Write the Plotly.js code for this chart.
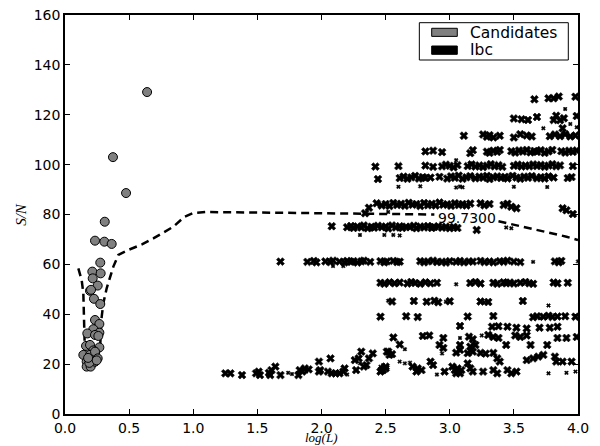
<!DOCTYPE html>
<html>
<head>
<meta charset="utf-8">
<script src="https://cdn.plot.ly/plotly-3.0.1.min.js"></script>
<style>html,body{margin:0;padding:0;background:#fff;}#chart{width:600px;height:446px;}</style>
</head>
<body>
<div id="chart"></div>
<script>
// ---- Candidates (grey circles) ----
const candX = [0.640,0.374,0.476,0.310,0.234,0.307,0.364,0.275,0.213,0.278,0.216,0.255,0.195,0.203,0.226,0.275,0.234,0.268,0.221,0.268,0.174,0.234,0.260,0.164,0.195,0.268,0.221,0.143,0.195,0.234,0.255,0.169,0.208,0.169,0.200,0.234,0.190,0.247,0.180];
const candY = [129.1,103.0,88.6,77.1,69.5,69.1,68.2,60.7,57.1,56.4,54.4,51.5,49.4,49.8,46.2,44.1,37.7,36.1,34.0,32.6,32.3,31.7,31.3,27.3,27.7,26.7,25.5,23.7,23.7,25.0,22.3,21.0,20.0,19.0,19.0,21.0,20.5,21.5,22.5];

// ---- Ibc, large markers ----
const ibcBigX = [
 3.66,3.77,3.81,3.85,3.98,
 3.50,3.56,3.61,3.68,3.81,3.83,3.86,3.89,3.99,3.88,
 3.11,3.26,3.29,3.31,3.34,3.39,3.50,3.55,3.60,3.64,3.78,3.82,3.86,3.90,3.94,3.98,
 2.81,2.87,2.94,3.16,3.18,3.29,3.31,3.34,3.37,3.39,3.48,3.51,3.54,3.57,3.60,3.63,3.66,3.68,3.71,3.74,3.77,3.80,3.87,3.90,3.93,3.96,3.99,
 2.42,2.60,2.81,2.87,2.94,2.97,3.00,3.03,3.06,3.14,3.17,3.20,3.23,3.26,3.29,3.32,3.35,3.38,3.41,3.50,3.53,3.56,3.59,3.62,3.65,3.68,3.71,3.74,3.77,3.80,3.83,3.86,3.96,
 2.44,2.61,2.64,2.67,2.70,2.73,2.76,2.79,2.81,2.85,2.92,2.98,3.01,3.04,3.07,3.10,3.13,3.16,3.20,3.23,3.26,3.29,3.31,3.34,3.37,3.40,3.43,3.45,3.49,3.52,3.55,3.58,3.61,3.64,3.68,3.71,3.74,3.77,3.81,3.92,3.95,
 2.34,2.37,2.43,2.47,2.50,2.53,2.56,2.59,2.62,2.65,2.68,2.71,2.74,2.77,2.80,2.83,2.86,2.89,2.92,2.95,2.98,3.01,3.04,3.07,3.10,3.13,3.16,3.24,3.27,3.31,3.42,3.45,3.48,3.52,3.88,3.91,3.96,
 2.08,2.20,2.23,2.25,2.28,2.31,2.33,2.36,2.39,2.41,2.44,2.47,2.50,2.52,2.55,2.58,2.61,2.63,2.66,2.69,2.72,2.74,2.77,2.80,2.83,2.86,2.88,2.91,2.94,2.97,3.00,3.03,3.06,3.21,
 1.68,1.89,1.94,1.96,2.03,2.07,2.09,2.14,2.18,2.20,2.23,2.25,2.28,2.31,2.33,2.38,2.46,2.49,2.51,2.56,2.59,2.61,2.77,2.80,2.83,2.87,2.90,2.94,2.97,3.00,3.05,3.08,3.11,3.15,3.18,3.24,3.27,3.31,3.34,3.39,3.42,3.45,3.50,3.55,3.82,3.85,3.87,
 2.46,2.49,2.53,2.57,2.61,2.67,2.70,2.73,2.77,2.81,2.85,2.90,3.16,3.20,3.24,3.34,3.37,3.42,3.44,3.47,3.50,3.55,3.59,3.62,3.65,3.81,3.84,3.92,
 2.55,2.72,2.82,2.88,2.91,3.00,3.24,3.30,3.57,
 2.46,2.66,2.75,3.14,3.34,3.65,3.68,3.73,3.77,3.80,3.84,3.90,3.98,
 3.08,3.33,3.38,3.45,3.52,3.60,3.70,3.78,3.84,
 2.56,2.79,2.84,2.95,3.15,3.18,3.30,3.34,3.38,3.51,3.55,3.60,3.84,3.91,3.99,
 2.61,2.92,2.95,3.08,3.16,3.20,3.44,3.63,3.76,
 2.51,2.55,3.05,3.08,3.14,3.18,3.24,3.28,3.34,3.37,3.39,3.60,3.65,3.69,3.73,3.82,3.83,3.88,3.95,
 2.47,2.50,2.71,2.75,2.78,2.74,2.85,2.87,2.96,3.02,3.04,3.06,3.08,3.09,3.05,3.14,3.16,3.18,3.26,3.34,3.37,3.45,3.48,3.52,
 1.25,1.29,1.38,1.49,1.52,1.51,1.59,1.61,1.60,1.64,1.68,1.82,1.83,1.85,1.87,1.90,1.98,1.99,1.98,2.05,2.08,2.07,2.11,2.14,2.17,2.18,2.27,2.26,2.29,2.31,2.33,2.37,2.35,2.40,2.46,2.48,2.50,2.52,2.53
];
const ibcBigY = [
 126.2,126.6,126.6,127.3,127.2,
 118.5,118.2,117.9,119.1,117.9,119.6,117.8,118.6,119.5,114.6,
 111.6,112.1,111.2,111.8,110.9,111.6,110.9,112.2,111.7,111.3,111.4,112.1,111.4,112.2,111.3,111.7,
 105.3,105.6,105.0,104.6,105.8,105.2,104.7,105.6,105.1,105.9,105.4,104.8,105.7,105.2,105.9,104.9,105.5,105.1,105.8,104.7,105.3,105.9,105.4,104.8,105.6,105.1,105.7,
 99.2,99.4,99.6,99.1,99.3,100.0,99.5,98.9,99.8,99.4,100.1,99.2,99.7,99.0,99.6,100.2,99.3,99.8,99.1,99.5,100.0,99.2,99.7,99.3,100.1,99.4,99.9,99.1,99.6,100.2,99.3,99.7,99.4,
 94.2,94.6,95.2,94.3,94.9,95.5,94.4,95.0,94.6,94.8,95.1,94.4,95.3,94.7,95.6,94.3,94.9,95.4,94.5,95.2,94.7,95.5,94.2,94.9,95.3,94.6,95.1,94.4,95.5,94.8,94.3,95.2,94.7,95.4,94.5,95.0,94.4,95.3,94.8,94.6,95.0,
 80.5,82.7,84.5,83.6,84.2,83.4,84.6,83.8,84.3,83.5,84.7,83.9,84.2,83.4,84.6,83.7,84.3,83.6,84.8,83.9,84.1,83.5,84.5,83.8,84.2,83.6,84.4,84.5,83.7,84.2,83.8,84.3,83.1,82.5,82.5,81.7,80.2,
 75.3,74.9,75.4,74.6,75.2,74.8,75.6,74.5,75.1,74.7,75.5,74.9,75.2,74.4,75.6,74.8,75.3,74.6,75.1,74.9,75.5,74.5,75.2,74.8,75.4,74.6,75.0,75.3,74.7,75.1,74.5,75.0,74.6,73.8,
 61.1,61.0,61.4,60.8,61.2,60.9,61.5,61.1,60.8,61.4,61.0,61.3,60.7,61.2,61.5,61.0,61.3,60.8,61.2,61.4,60.9,61.1,61.3,60.8,61.2,61.5,60.9,61.1,60.7,61.3,61.0,61.4,60.8,61.2,61.1,61.4,60.9,61.2,60.8,61.3,61.0,61.5,61.1,60.9,61.2,60.8,61.4,
 52.6,52.2,52.8,52.4,52.7,52.3,52.9,52.5,52.2,52.8,52.4,52.6,52.5,52.9,52.3,52.6,52.2,52.8,52.4,52.7,52.3,52.6,52.9,52.4,52.2,52.7,52.4,52.6,
 45.1,45.3,45.0,45.4,44.8,45.2,45.1,44.9,45.3,
 39.0,39.2,38.9,39.1,39.3,38.8,39.2,39.0,39.4,38.9,39.1,39.2,39.0,
 35.3,35.0,35.2,35.0,34.6,34.3,34.6,34.6,35.0,
 30.7,31.3,31.5,30.5,31.0,30.0,31.7,30.9,30.5,31.5,30.9,31.5,30.5,30.5,30.9,
 27.9,27.7,26.5,27.7,27.0,27.7,27.7,27.7,27.7,
 25.0,24.0,24.6,25.7,24.4,25.0,24.5,24.2,24.5,22.3,21.0,21.6,22.3,23.0,23.7,23.0,21.0,21.0,21.0,
 17.6,18.3,19.0,18.3,17.6,17.0,21.0,19.6,17.0,19.0,17.6,18.3,16.3,17.6,16.3,20.3,18.3,17.0,17.0,17.6,16.3,17.6,16.3,17.0,
 16.3,16.3,15.6,16.3,15.6,17.0,16.5,17.6,15.6,19.0,15.6,15.6,17.6,17.0,18.3,17.9,21.0,17.6,17.0,17.0,16.3,22.3,16.3,16.3,17.0,18.3,17.6,21.6,22.3,25.0,19.0,22.3,19.6,24.3,17.0,17.6,19.0,25.0,23.7
];

// ---- Ibc, small markers ----
const ibcSmallX = [3.90,3.94,3.73,3.99,3.05,3.16,2.60,2.77,3.05,3.08,3.10,3.50,3.76,2.52,3.44,3.48,2.30,2.49,2.56,2.61,2.09,2.17,3.65,4.00,3.05,2.52,2.97,3.27,3.77,3.71,3.08,3.25,2.65,2.94,2.61,2.65,2.69,2.90,3.77,3.91,3.98,1.74,1.77,1.88,2.30,2.20,2.46,2.48];
const ibcSmallY = [122.3,116.3,114.6,115.0,101.8,100.5,91.1,91.3,90.8,91.2,90.9,91.1,91.0,81.0,74.8,74.5,71.8,71.8,71.8,71.6,59.3,59.3,61.0,61.2,52.0,45.4,45.0,44.8,43.5,38.5,30.5,31.5,26.0,24.3,21.0,20.3,20.6,15.8,16.3,16.5,17.0,16.5,16.0,17.0,20.3,15.8,19.0,19.6];

// ---- 99.73% contour (dashed) ----
const contourX = [0.104,0.130,0.143,0.148,0.151,0.155,0.165,0.200,0.250,0.275,0.286,0.299,0.325,0.351,0.377,0.416,0.494,0.600,0.689,0.845,0.930,1.000,1.100,1.500,2.000,2.500,2.880,null,3.380,3.600,3.910,4.000];
const contourY = [58.4,53.7,48.4,40.4,33.7,25.0,20.0,18.5,20.0,28.0,39.0,44.4,50.4,54.4,59.1,63.8,65.8,68.0,70.4,75.1,79.0,80.6,81.0,80.8,80.5,80.2,80.0,null,77.3,74.8,71.1,69.8];
const contourLabel = "99.7300";
const contourLabelPos = [3.135, 78.5];

const legendNames = ["Candidates", "Ibc"];
const xTicks = [0,0.5,1,1.5,2,2.5,3,3.5,4];
const yTicks = [0,20,40,60,80,100,120,140,160];

const traces = [
  {x: ibcBigX, y: ibcBigY, type: 'scatter', mode: 'markers', name: legendNames[1], legendgroup: 'ibc',
   marker: {symbol: 'x', size: 7, color: '#000', line: {color: '#000', width: 0.6}}, showlegend: false},
  {x: ibcSmallX, y: ibcSmallY, type: 'scatter', mode: 'markers', name: legendNames[1], legendgroup: 'ibc',
   marker: {symbol: 'x', size: 3.5, color: '#000', line: {color: '#000', width: 0.5}}, showlegend: false},
  {x: contourX, y: contourY, type: 'scatter', mode: 'lines', name: contourLabel, connectgaps: false,
   line: {color: '#000', width: 2.5, dash: '8px,5px'}, showlegend: false},
  {x: candX, y: candY, type: 'scatter', mode: 'markers', name: legendNames[0],
   marker: {symbol: 'circle', size: 9, color: '#808080', line: {color: '#000', width: 1}}, showlegend: false}
];

const tickFont = {family: 'DejaVu Sans, sans-serif', size: 14, color: '#000'};
const layout = {
  width: 600, height: 446,
  margin: {l: 65, r: 22, t: 15, b: 32, pad: 0},
  paper_bgcolor: '#fff', plot_bgcolor: '#fff',
  showlegend: false,
  xaxis: {range: [0, 4], tickvals: xTicks, ticktext: xTicks.map(v => v.toFixed(1)), ticks: 'inside', ticklen: 5, tickwidth: 1, tickcolor: '#000',
    showline: true, linecolor: '#000', linewidth: 1.8, mirror: 'allticks', showgrid: false, zeroline: false, tickfont: tickFont,
    automargin: false, title: {text: ''}},
  yaxis: {range: [0, 160], tickvals: yTicks, ticks: 'inside', ticklen: 5, tickwidth: 1, tickcolor: '#000',
    showline: true, linecolor: '#000', linewidth: 1.8, mirror: 'allticks', showgrid: false, zeroline: false, tickfont: tickFont,
    automargin: false, title: {text: ''}},
  shapes: [
    {type: 'rect', xref: 'paper', yref: 'paper', x0: 0.6907, x1: 0.9811, y0: 0.8872, y1: 0.9807, line: {color: '#000', width: 1}, fillcolor: '#fff', layer: 'above'},
    {type: 'rect', xref: 'paper', yref: 'paper', x0: 0.7148, x1: 0.7647, y0: 0.9464, y1: 0.9667, line: {color: '#000', width: 1}, fillcolor: '#808080', layer: 'above'},
    {type: 'rect', xref: 'paper', yref: 'paper', x0: 0.7148, x1: 0.7647, y0: 0.9015, y1: 0.9223, line: {color: '#000', width: 1}, fillcolor: '#000', layer: 'above'}
  ],
  annotations: [
    {x: contourLabelPos[0], y: contourLabelPos[1], xref: 'x', yref: 'y', text: contourLabel, showarrow: false,
     font: {family: 'DejaVu Sans, sans-serif', size: 14, color: '#000'}},
    {x: 0.7862, y: 0.9556, xref: 'paper', yref: 'paper', xanchor: 'left', yanchor: 'middle', text: legendNames[0], showarrow: false,
     font: {family: 'DejaVu Sans, sans-serif', size: 15.5, color: '#000'}},
    {x: 0.7862, y: 0.9118, xref: 'paper', yref: 'paper', xanchor: 'left', yanchor: 'middle', text: legendNames[1], showarrow: false,
     font: {family: 'DejaVu Sans, sans-serif', size: 15.5, color: '#000'}},
    {x: 0.5, y: -0.0802, xref: 'paper', yref: 'paper', xanchor: 'center', yanchor: 'bottom', text: 'log(L)', showarrow: false, borderpad: 0,
     font: {family: 'Liberation Serif, serif', size: 13, style: 'italic', color: '#000'}},
    {x: -0.087, y: 0.5, xref: 'paper', yref: 'paper', xanchor: 'center', yanchor: 'middle', text: 'S/N', showarrow: false, textangle: -90,
     font: {family: 'Liberation Serif, serif', size: 15, style: 'italic', color: '#000'}}
  ]
};

Plotly.newPlot('chart', traces, layout, {staticPlot: true, displayModeBar: false});
</script>
</body>
</html>
